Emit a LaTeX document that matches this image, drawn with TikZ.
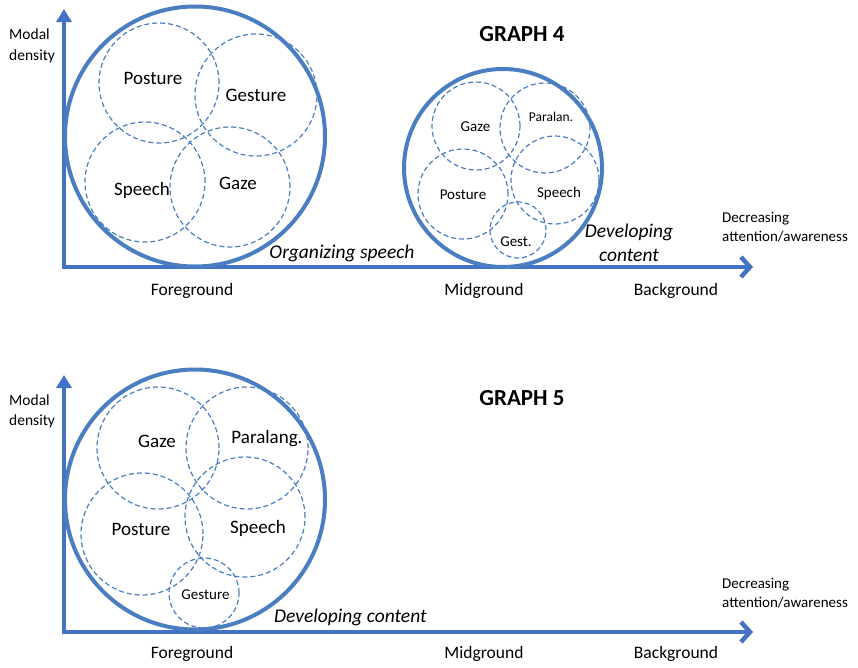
\documentclass[tikz,border=0pt]{standalone}
\usepackage{fontspec}
\setmainfont{Carlito}
\usepackage{xcolor}
\usetikzlibrary{arrows.meta}
\definecolor{axisblue}{RGB}{68,114,196}
\definecolor{ringblue}{RGB}{74,126,193}

\begin{document}
\begin{tikzpicture}[
            x=1pt, y=-1pt,
            axis/.style={line width=4.5pt, draw=axisblue},
            yaxis/.style={axis, -{Triangle[length=13pt, width=15pt]}},
            xaxis/.style={axis, -{Straight Barb[length=9pt, width=20pt]}},
            ring/.style={line width=4pt, draw=ringblue},
            mode/.style={line width=1.2pt, draw=ringblue, dash pattern=on 5pt off 3pt},
            big/.style={anchor=base, inner sep=0pt, font=\fontsize{19}{22}\selectfont},
            small/.style={anchor=base, inner sep=0pt, font=\fontsize{15}{18}\selectfont},
            ground/.style={anchor=base, inner sep=0pt, font=\fontsize{17.5}{20}\selectfont},
            note/.style={anchor=base west, inner sep=0pt, align=left},
            phase/.style={anchor=base, inner sep=0pt, align=center, font=\fontsize{19.5}{24}\selectfont\itshape},
            title/.style={anchor=base, inner sep=0pt, font=\fontsize{23}{26}\selectfont\bfseries}
        ]
            \useasboundingbox (0,0) rectangle (858,667);

            % Graph 4
            \coordinate (o4) at (64,267);
            \coordinate (ytip4) at (64,9);
            \coordinate (xtip4) at (753,267);
            \draw[yaxis] ([yshift=-2.25pt]o4) -- (ytip4);
            \draw[xaxis] (o4) -- (xtip4);

            \node[title] (graph4) at (522,41) {GRAPH 4};
            \node[note, font=\fontsize{15.5}{21}\selectfont] (modal4) at (9,60) {Modal\\density};
            \node[note, font=\fontsize{15}{18.5}\selectfont] (decr4) at (722,241) {Decreasing\\attention/awareness};

            % foreground cluster
            \draw[ring] (195,136.5) circle[radius=130pt];
            \draw[mode] (159,83) circle[radius=60pt];
            \draw[mode] (256,95) circle[radius=61pt];
            \draw[mode] (145,182) circle[radius=60pt];
            \draw[mode] (230,187) circle[radius=60pt];
            \node[big] (posture4) at (153,84) {Posture};
            \node[big] (gesture4) at (256,101.5) {Gesture};
            \node[big] (speech4) at (142,195) {Speech};
            \node[big] (gaze4) at (238,189) {Gaze};

            % midground cluster
            \draw[ring] (503,168) circle[radius=99pt];
            \draw[mode] (476,126) circle[radius=44pt];
            \draw[mode] (545,128) circle[radius=45pt];
            \draw[mode] (463,194) circle[radius=45pt];
            \draw[mode] (555,180) circle[radius=44pt];
            \draw[mode] (518,230) circle[radius=28pt];
            \node[small] (gazem4) at (475.5,131) {Gaze};
            \node[small, font=\fontsize{13.5}{16}\selectfont] (paralan4) at (551,121) {Paralan.};
            \node[small] (posturem4) at (463,199) {Posture};
            \node[small] (speechm4) at (559,197) {Speech};
            \node[small] (gest4) at (516,246) {Gest.};

            \node[phase] (organizing4) at (342,258) {Organizing speech};
            \node[phase] (developing4) at (629,261) {Developing\\content};

            \node[ground] (fore4) at (192,295) {Foreground};
            \node[ground] (mid4) at (484,295) {Midground};
            \node[ground] (back4) at (676,295) {Background};

            % Graph 5
            \coordinate (o5) at (64,632);
            \coordinate (ytip5) at (64,375);
            \coordinate (xtip5) at (753,632);
            \draw[yaxis] ([yshift=-2.25pt]o5) -- (ytip5);
            \draw[xaxis] (o5) -- (xtip5);

            \node[title] (graph5) at (522,405) {GRAPH 5};
            \node[note, font=\fontsize{15.5}{20}\selectfont] (modal5) at (9,425) {Modal\\density};
            \node[note, font=\fontsize{15}{19}\selectfont] (decr5) at (722,607) {Decreasing\\attention/awareness};

            % foreground cluster
            \draw[ring] (195,499.5) circle[radius=130pt];
            \draw[mode] (158,448) circle[radius=61pt];
            \draw[mode] (247,448) circle[radius=61pt];
            \draw[mode] (142,534) circle[radius=61pt];
            \draw[mode] (245,517) circle[radius=60pt];
            \draw[mode] (204,593) circle[radius=35pt];
            \node[big] (gaze5) at (157,447) {Gaze};
            \node[big] (paralang5) at (267,443) {Paralang.};
            \node[big] (posture5) at (141,535) {Posture};
            \node[big] (speech5) at (258,533) {Speech};
            \node[small] (gesture5) at (205.5,599) {Gesture};

            \node[phase, anchor=base west] (developing5) at (274,622) {Developing content};

            \node[ground] (fore5) at (192,658) {Foreground};
            \node[ground] (mid5) at (484,658) {Midground};
            \node[ground] (back5) at (676,658) {Background};
        \end{tikzpicture}
\end{document}
